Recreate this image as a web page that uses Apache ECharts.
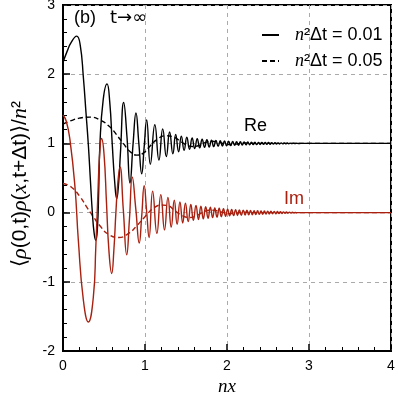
<!DOCTYPE html>
<html>
<head>
<meta charset="utf-8">
<script src="https://cdn.jsdelivr.net/npm/echarts@6/dist/echarts.min.js"></script>
<style>
  html, body { margin: 0; padding: 0; background: #fff; }
  #chart { width: 399px; height: 399px; }
</style>
</head>
<body>
<div id="chart"></div>
<script>
// axis ticks
const xTicks = [0, 1, 2, 3, 4];
const yTicks = [-2, -1, 0, 1, 2, 3];

// Re, n^2 dt = 0.01 (solid black) - [nx, value]
const reFine = [
  [0, 2.17], [0.05, 2.33], [0.1, 2.46], [0.167, 2.55], [0.21, 2.42], [0.248, 1.96], [0.28, 1.45],
  [0.309, 0.98], [0.335, 0.45], [0.358, 0], [0.38, -0.3], [0.4, -0.4], [0.42, -0.22], [0.435, 0.3],
  [0.45, 0.98], [0.49, 1.63], [0.537, 1.86], [0.57, 1.6], [0.6, 1.0], [0.63, 0.45], [0.655, 0.2],
  [0.68, 0.45], [0.7, 0.85], [0.74, 1.59], [0.78, 1.1], [0.817, 0.43], [0.855, 1.0], [0.89, 1.44],
  [0.925, 1.0], [0.96, 0.56], [0.99, 0.95], [1.02, 1.34], [1.065, 0.7], [1.12, 1.27], [1.17, 0.76],
  [1.216, 1.21], [1.26, 0.81], [1.3, 1.165], [1.34, 0.85], [1.374, 1.13], [1.41, 0.88], [1.443, 1.105],
  [1.477, 0.9], [1.51, 1.088], [1.543, 0.915], [1.575, 1.078], [1.606, 0.925], [1.637, 1.068],
  [1.667, 0.935], [1.697, 1.06], [1.726, 0.942], [1.755, 1.053], [1.783, 0.948], [1.811, 1.047],
  [1.838, 0.953], [1.865, 1.042], [1.892, 0.958], [1.918, 1.038], [1.944, 0.962], [1.97, 1.034],
  [1.995, 0.966], [2.02, 1.031], [2.045, 0.969], [2.069, 1.028], [2.093, 0.972], [2.117, 1.026],
  [2.14, 0.974], [2.163, 1.024], [2.186, 0.976], [2.209, 1.022], [2.232, 0.978], [2.254, 1.02],
  [2.276, 0.98], [2.298, 1.018], [2.32, 0.982], [2.341, 1.016], [2.362, 0.984], [2.383, 1.015],
  [2.404, 0.985], [2.425, 1.014], [2.446, 0.986], [2.466, 1.013], [2.486, 0.987], [2.506, 1.012],
  [2.526, 0.988], [2.546, 1.011], [2.566, 0.989], [2.585, 1.01], [2.604, 0.991], [2.623, 1.008],
  [2.642, 0.992], [2.661, 1.007], [2.68, 0.993], [2.698, 1.006], [2.716, 0.995], [2.735, 1.005],
  [2.753, 0.996], [2.771, 1.004], [2.79, 0.997], [2.81, 1.003], [2.83, 0.998], [2.85, 1.002],
  [2.87, 0.999], [2.9, 1], [4, 1]
];

// Im, n^2 dt = 0.01 (solid red)
const imFine = [
  [0, 1.41], [0.04, 1.32], [0.085, 1.05], [0.146, 0.37], [0.187, -0.4], [0.248, -1.26], [0.309, -1.58],
  [0.37, -1.22], [0.4, -0.5], [0.425, 0.25], [0.445, 0.8], [0.47, 1.07], [0.5, 0.85], [0.53, 0.15],
  [0.56, -0.55], [0.594, -0.88], [0.62, -0.55], [0.645, 0], [0.67, 0.45], [0.695, 0.66], [0.735, 0.05],
  [0.777, -0.61], [0.81, -0.1], [0.845, 0.51], [0.888, 0.05], [0.93, -0.44], [0.96, -0.05], [0.99, 0.39],
  [1.02, 0.02], [1.05, -0.36], [1.093, 0.31], [1.145, -0.3], [1.193, 0.26], [1.238, -0.25], [1.28, 0.22],
  [1.32, -0.21], [1.357, 0.18], [1.392, -0.17], [1.426, 0.155], [1.46, -0.15], [1.493, 0.135],
  [1.527, -0.13], [1.559, 0.118], [1.59, -0.112], [1.622, 0.104], [1.652, -0.1], [1.682, 0.094],
  [1.711, -0.09], [1.74, 0.085], [1.769, -0.081], [1.797, 0.077], [1.825, -0.073], [1.851, 0.069],
  [1.878, -0.066], [1.905, 0.062], [1.931, -0.059], [1.957, 0.056], [1.983, -0.053], [2.008, 0.05],
  [2.032, -0.048], [2.057, 0.046], [2.081, -0.044], [2.105, 0.042], [2.128, -0.041], [2.151, 0.039],
  [2.175, -0.038], [2.198, 0.036], [2.221, -0.035], [2.243, 0.034], [2.265, -0.033], [2.287, 0.031],
  [2.309, -0.03], [2.33, 0.029], [2.352, -0.028], [2.373, 0.027], [2.394, -0.026], [2.415, 0.025],
  [2.436, -0.024], [2.456, 0.023], [2.476, -0.022], [2.496, 0.021], [2.516, -0.02], [2.536, 0.019],
  [2.556, -0.018], [2.576, 0.017], [2.595, -0.016], [2.614, 0.015], [2.633, -0.014], [2.652, 0.013],
  [2.67, -0.012], [2.689, 0.011], [2.707, -0.01], [2.725, 0.009], [2.743, -0.008], [2.761, 0.007],
  [2.779, -0.006], [2.797, 0.005], [2.815, -0.004], [2.833, 0.003], [2.851, -0.002], [2.87, 0], [4, 0]
];

// Re, n^2 dt = 0.05 (dashed black)
const reCoarse = [
  [0, 1.28], [0.1, 1.33], [0.2, 1.365], [0.33, 1.38], [0.45, 1.34], [0.57, 1.24], [0.65, 1.13],
  [0.735, 1.0], [0.82, 0.88], [0.9, 0.83], [0.98, 0.86], [1.06, 0.96], [1.15, 1.06], [1.25, 1.11],
  [1.33, 1.1], [1.42, 1.04], [1.5, 0.98], [1.58, 0.955], [1.66, 0.97], [1.74, 1.015], [1.82, 1.03],
  [1.9, 1.015], [1.98, 0.99], [2.06, 0.985], [2.14, 0.995], [2.22, 1.005], [2.35, 1], [4, 1]
];

// Im, n^2 dt = 0.05 (dashed red)
const imCoarse = [
  [0, 0.42], [0.1, 0.37], [0.207, 0.23], [0.3, 0.06], [0.37, -0.06], [0.45, -0.19], [0.55, -0.31],
  [0.68, -0.36], [0.8, -0.3], [0.9, -0.19], [1.0, -0.06], [1.1, 0.06], [1.2, 0.11], [1.28, 0.1],
  [1.36, 0.03], [1.45, -0.04], [1.54, -0.07], [1.62, -0.05], [1.7, 0], [1.78, 0.035], [1.86, 0.03],
  [1.94, 0.005], [2.02, -0.015], [2.1, -0.012], [2.2, 0.005], [2.3, 0], [4, 0]
];

const legendNames = ['n²Δt = 0.01', 'n²Δt = 0.05'];

const sans = '"Liberation Sans", Arial, sans-serif';
const serif = '"Liberation Serif", "Times New Roman", serif';
const red = '#a8200f';

let myChart = echarts.init(document.getElementById('chart'), null, { renderer: 'canvas' });

function lineSeries(name, data, color, dashed) {
  return {
    name: name,
    type: 'line',
    data: data,
    smooth: 0.5,
    symbol: 'none',
    showSymbol: false,
    lineStyle: { color: color, width: 1.4, type: dashed ? [5, 3] : 'solid' },
    itemStyle: { color: color }
  };
}

let option = {
  animation: false,
  backgroundColor: '#fff',
  grid: {
    left: 63, right: 8, top: 5, bottom: 48,
    show: true, borderColor: '#000', borderWidth: 2,
    containLabel: false, outerBoundsMode: 'none'
  },
  legend: {
    data: legendNames,
    orient: 'vertical',
    left: 256,
    top: 21,
    itemGap: 8,
    itemWidth: 17,
    itemHeight: 10,
    selectedMode: false,
    itemStyle: { opacity: 0 },
    formatter: function (name) {
      return '{sp|}{i|n}{t|' + name.slice(1) + '}';
    },
    textStyle: {
      color: '#000',
      rich: {
        sp: { width: 11 },
        i: { fontFamily: serif, fontStyle: 'italic', fontSize: 18, color: '#000' },
        t: { fontFamily: sans, fontSize: 18, color: '#000' }
      }
    }
  },
  xAxis: {
    type: 'value',
    min: xTicks[0],
    max: xTicks[xTicks.length - 1],
    interval: 1,
    name: 'nx',
    nameLocation: 'middle',
    nameGap: 19,
    nameTextStyle: { fontFamily: serif, fontStyle: 'italic', fontSize: 19, color: '#000' },
    axisLine: { show: true, onZero: false, lineStyle: { color: '#000', width: 2 } },
    axisTick: { show: true, inside: true, length: 7, lineStyle: { color: '#000', width: 1.5 } },
    minorTick: { show: true, splitNumber: 5, length: 4, lineStyle: { color: '#000', width: 1 } },
    axisLabel: { color: '#000', fontSize: 14, fontFamily: sans, margin: 8 },
    splitLine: { show: true, lineStyle: { color: '#aaa', width: 1, type: [4, 4] } }
  },
  yAxis: {
    type: 'value',
    min: yTicks[0],
    max: yTicks[yTicks.length - 1],
    interval: 1,
    name: '⟨{i|ρ}(0,t){i|ρ}({i|x},t+Δt)⟩/{i|n}²',
    nameLocation: 'middle',
    nameRotate: 90,
    nameGap: 30,
    nameTextStyle: {
      fontFamily: sans, fontSize: 21, color: '#000',
      padding: [0, 12, 0, 0],
      rich: { i: { fontFamily: serif, fontStyle: 'italic', fontSize: 22, color: '#000' } }
    },
    axisLine: { show: true, onZero: false, lineStyle: { color: '#000', width: 2 } },
    axisTick: { show: true, inside: true, length: 7, lineStyle: { color: '#000', width: 1.5 } },
    minorTick: { show: true, splitNumber: 5, length: 4, lineStyle: { color: '#000', width: 1 } },
    axisLabel: { color: '#000', fontSize: 14, fontFamily: sans, margin: 8 },
    splitLine: { show: true, lineStyle: { color: '#aaa', width: 1, type: [4, 4] } }
  },
  graphic: [
    { type: 'text', left: 74, top: 9, style: { text: '(b)', font: '18px ' + sans, fill: '#000' } },
    { type: 'text', left: 110, top: 9, style: { text: 't→∞', font: '18px "DejaVu Sans", sans-serif', fill: '#000' } },
    { type: 'text', left: 244, top: 117, style: { text: 'Re', font: '18px ' + sans, fill: '#000' } },
    { type: 'text', left: 284, top: 190, style: { text: 'Im', font: '18px ' + sans, fill: red } }
  ],
  series: [
    lineSeries(legendNames[1], reCoarse, '#000', true),
    lineSeries('Im 0.05', imCoarse, red, true),
    lineSeries(legendNames[0], reFine, '#000', false),
    lineSeries('Im 0.01', imFine, red, false)
  ]
};

myChart.setOption(option);
</script>
</body>
</html>
